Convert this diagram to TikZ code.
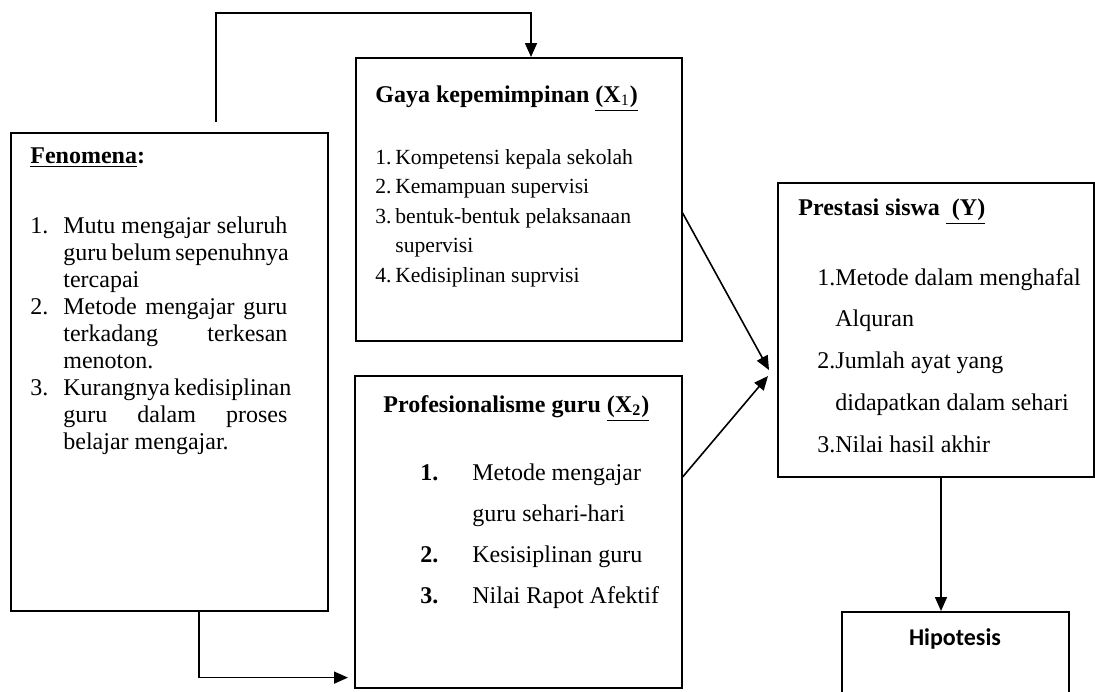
\documentclass[tikz,border=0pt]{standalone}
\usepackage{fontspec}
\setmainfont{Liberation Serif}
\newfontfamily\hipfont{Carlito}
\usetikzlibrary{arrows.meta}
\begin{document}
\begin{tikzpicture}[x=0.5pt,y=-0.5pt,
  box/.style={draw,line width=0.8pt,inner sep=0pt,anchor=north west},
  txt/.style={anchor=base west,inner sep=0pt,font=\fontsize{12}{13.5}\selectfont},
  arr/.style={line width=0.8pt,-{Triangle[length=7pt,width=6pt]}}]
\clip (0,0) rectangle (1095,691);
\fill[white] (0,0) rectangle (1095,691);

% boxes
\node[box,minimum width=158.5pt,minimum height=239pt] (fen) at (10,132) {};
\node[box,minimum width=163pt,minimum height=141.5pt] (gaya) at (355,57) {};
\node[box,minimum width=163.5pt,minimum height=156pt] (prof) at (354,375) {};
\node[box,minimum width=158pt,minimum height=147pt] (prest) at (777,182) {};
\node[box,minimum width=113.5pt,minimum height=60pt] (hip) at (841,611) {};

% Fenomena text
\node[txt] (fenT) at (30,163) {\textbf{\underline{Fenomena}:}};
\node[txt] (fenL) at (30,233) {\vtop{\baselineskip=13.5pt
 \hbox{\makebox[16.5pt][l]{1.}\makebox[112pt][s]{Mutu mengajar seluruh}}
 \hbox{\hspace{16.5pt}\makebox[112pt][s]{guru belum sepenuhnya}}
 \hbox{\hspace{16.5pt}tercapai}
 \hbox{\makebox[16.5pt][l]{2.}\makebox[112pt][s]{Metode mengajar guru}}
 \hbox{\hspace{16.5pt}\makebox[112pt][s]{terkadang terkesan}}
 \hbox{\hspace{16.5pt}menoton.}
 \hbox{\makebox[16.5pt][l]{3.}\makebox[112pt][s]{Kurangnya kedisiplinan}}
 \hbox{\hspace{16.5pt}\makebox[112pt][s]{guru dalam proses}}
 \hbox{\hspace{16.5pt}belajar mengajar.}}};

% Gaya text
\node[txt] (gayaT) at (375,102) {\textbf{Gaya kepemimpinan \underline{(X\textsubscript{\textnormal{1}})}}};
\node[txt,font=\fontsize{10.8}{14.8}\selectfont] (gayaL) at (375,164) {\vtop{\baselineskip=14.8pt
 \hbox{\makebox[10pt][l]{1.}Kompetensi kepala sekolah}
 \hbox{\makebox[10pt][l]{2.}Kemampuan supervisi}
 \hbox{\makebox[10pt][l]{3.}bentuk-bentuk pelaksanaan}
 \hbox{\hspace{10pt}supervisi}
 \hbox{\makebox[10pt][l]{4.}Kedisiplinan suprvisi}}};

% Profesionalisme text
\node[txt] (profT) at (383,412) {\textbf{Profesionalisme guru \underline{(X\textsubscript{2})}}};
\node[txt] (profL) at (420,480) {\vtop{\baselineskip=20.5pt
 \hbox{\makebox[26pt][l]{\textbf{1.}}Metode mengajar}
 \hbox{\hspace{26pt}guru sehari-hari}
 \hbox{\makebox[26pt][l]{\textbf{2.}}Kesisiplinan guru}
 \hbox{\makebox[26pt][l]{\textbf{3.}}Nilai Rapot Afektif}}};

% Prestasi text
\node[txt] (prestT) at (798,215) {\textbf{Prestasi siswa \underline{\ (Y)}}};
\node[txt] (prestL) at (817,285) {\vtop{\baselineskip=20.9pt
 \hbox{1.Metode dalam menghafal}
 \hbox{\phantom{1.}Alquran}
 \hbox{2.Jumlah ayat yang}
 \hbox{\phantom{2.}didapatkan dalam sehari}
 \hbox{3.Nilai hasil akhir}}};

% Hipotesis text
\node[inner sep=0pt,anchor=base,font=\hipfont\bfseries\fontsize{12}{14}\selectfont] (hipT) at (955,645) {Hipotesis};

% connectors
\draw[arr] ([xshift=103pt,yshift=5pt]fen.north west) -- ++(0,-109) -| ([xshift=88pt]gaya.north west);
\draw[arr] ([xshift=94.5pt]fen.south west) |- ([xshift=-3pt,yshift=5.5pt]prof.south west);
\draw[arr] ([yshift=-78pt]gaya.north east) -- ([xshift=-4pt,yshift=-94pt]prest.north west);
\draw[arr] ([yshift=-51pt]prof.north east) -- ([xshift=-4.5pt,yshift=-97pt]prest.north west);
\draw[arr] ([xshift=82pt]prest.south west) -- ([xshift=50pt]hip.north west);
\end{tikzpicture}
\end{document}
